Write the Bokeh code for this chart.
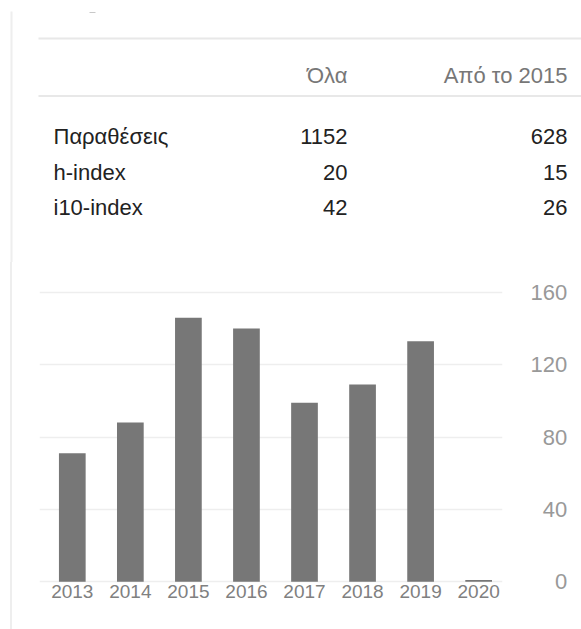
from bokeh.plotting import figure
from bokeh.layouts import column, row
from bokeh.models import Range1d, FixedTicker, ColumnDataSource, Div, Spacer
from bokeh.core.properties import value
from bokeh.embed import file_html
from bokeh.resources import INLINE

# ---------------- data ----------------
col_headers = ["Όλα", "Από το 2015"]
row_labels = ["Παραθέσεις", "h-index", "i10-index"]
all_vals = ["1152", "20", "42"]
since_vals = ["628", "15", "26"]

years = [2013, 2014, 2015, 2016, 2017, 2018, 2019, 2020]
citations = [71, 88, 146, 140, 99, 109, 133, 1]
y_ticks = [0, 40, 80, 120, 160]

FONT = "Liberation Sans"
LINE = "#e8e8e8"
FS = "\u2007"  # figure space, for right-aligning the value labels

# ---------------- top table ----------------
TW, TH = 581, 262
top = figure(width=TW, height=TH, x_range=Range1d(0, TW), y_range=Range1d(TH, 0),
             output_backend="svg", toolbar_location=None, min_border=0,
             x_axis_location=None, y_axis_location=None)
top.grid.visible = False
top.outline_line_color = None

# left vertical rule and tiny dash
top.segment(x0=[11], y0=[11], x1=[11], y1=[TH], line_color="#eeeeee", line_width=2)
top.segment(x0=[89], y0=[12], x1=[95], y1=[12], line_color="#c8c8c8", line_width=1)
# horizontal rules
top.segment(x0=[38, 38], y0=[38, 95.5], x1=[TW, TW], y1=[38, 95.5], line_color=LINE, line_width=2)

# header
top.text(x=[347, 567], y=[75, 75], text=col_headers, text_align="right",
         text_baseline="alphabetic", text_font=value(FONT), text_font_size="22px",
         text_color="#777777")
# rows
row_y = [136, 172, 207]
top.text(x=[53] * 3, y=row_y, text=row_labels, text_align="left", text_baseline="alphabetic",
         text_font=value(FONT), text_font_size="22px", text_color="#222222")
top.text(x=[347] * 3, y=row_y, text=all_vals, text_align="right", text_baseline="alphabetic",
         text_font=value(FONT), text_font_size="22px", text_color="#222222")
top.text(x=[567] * 3, y=row_y, text=since_vals, text_align="right", text_baseline="alphabetic",
         text_font=value(FONT), text_font_size="22px", text_color="#222222")

# ---------------- left vertical rule beside the chart ----------------
SH = 367
gap = Spacer(width=10, height=SH, margin=0)
rule = Div(text="", width=2, height=SH, margin=0, styles={"background-color": "#eeeeee"})

# ---------------- bar chart ----------------
x_start = years[0] - 0.565
x_end = x_start + 463 / 58.05
chart = figure(width=569, height=SH, x_range=Range1d(x_start, x_end), y_range=Range1d(-1, 161),
               output_backend="svg", toolbar_location=None, y_axis_location="right",
               min_border_left=27, min_border_right=79, min_border_top=28, min_border_bottom=46)
chart.outline_line_color = None
chart.xgrid.visible = False
chart.ygrid.ticker = FixedTicker(ticks=y_ticks)
chart.ygrid.grid_line_color = "#eeeeee"
chart.ygrid.grid_line_width = 1.5

src = ColumnDataSource(data=dict(year=years, cites=citations))
chart.vbar(x="year", top="cites", bottom=0, width=0.46, source=src,
           fill_color="#777777", line_color=None)

xa = chart.xaxis[0]
xa.ticker = FixedTicker(ticks=years)
xa.axis_line_color = None
xa.major_tick_line_color = None
xa.minor_tick_line_color = None
xa.major_label_standoff = -5
xa.major_label_text_font = FONT
xa.major_label_text_font_size = "19px"
xa.major_label_text_color = "#808080"

ya = chart.yaxis[0]
ya.ticker = FixedTicker(ticks=y_ticks)
ya.axis_line_color = None
ya.major_tick_line_color = None
ya.minor_tick_line_color = None
ya.major_label_standoff = 22
ya.major_label_overrides = {t: FS * (3 - len(str(t))) + str(t) for t in y_ticks}
ya.major_label_text_font = FONT
ya.major_label_text_font_size = "22px"
ya.major_label_text_color = "#999999"

layout = column(top, row(gap, rule, chart, spacing=0), spacing=0)
open("out.html", "w").write(file_html(layout, INLINE))
